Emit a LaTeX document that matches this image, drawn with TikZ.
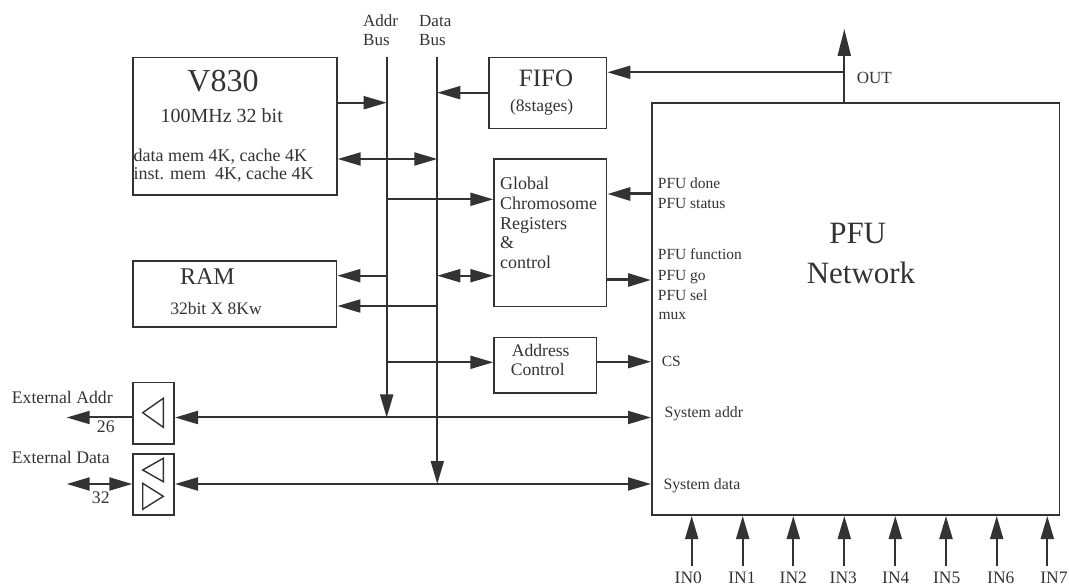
\documentclass[tikz,border=0pt]{standalone}
\usepackage{fontspec}
\setmainfont{Liberation Serif}
\usetikzlibrary{arrows.meta,calc}
\definecolor{ink}{HTML}{333333}
\newcommand\myfs[1]{\fontsize{#1}{#1}\selectfont}
\begin{document}
\begin{tikzpicture}[x=1pt,y=-1pt,
  box/.style={draw=ink, line width=1.7pt, inner sep=0pt, anchor=north west},
  conn/.style={draw=ink, line width=2pt},
  thk/.style={draw=ink, line width=3pt},
  tip/.tip={Triangle[length=23pt,width=13pt]},
  arr/.style={conn, -tip},
  darr/.style={conn, tip-tip},
  tri/.style={draw=ink, line width=1.4pt, line join=miter},
  txt/.style={text=ink, inner sep=0pt},
  lw/.style={txt, anchor=base west},
  lc/.style={txt, anchor=base},
]
\useasboundingbox (0,0) rectangle (1069,585);

% ---------- boxes ----------
\node[box, minimum width=203.7pt, minimum height=137.3pt] (v830) at (132.3,56.7) {};
\node[box, minimum width=203.4pt, minimum height=66pt]    (ram)  at (132.3,260) {};
\node[box, minimum width=117.4pt, minimum height=71pt]    (fifo) at (488.3,56.7) {};
\node[box, minimum width=112.4pt, minimum height=147.4pt] (glob) at (493.3,158.3) {};
\node[box, minimum width=102.4pt, minimum height=55.6pt]  (actl) at (493.3,336.7) {};
\node[box, minimum width=407.5pt, minimum height=412pt]   (pfu)  at (651,102.3) {};
\node[box, minimum width=41pt, minimum height=61.6pt]     (abuf) at (132.3,381.7) {};
\node[box, minimum width=41pt, minimum height=61pt]       (dbuf) at (132.3,453.3) {};

% buffer triangles
\draw[tri] (142.7,412.7) -- (163.3,398.3) -- (163.3,427.3) -- cycle;
\draw[tri] (142.7,470) -- (163.3,458.3) -- (163.3,481.7) -- cycle;
\draw[tri] (163.3,496.3) -- (142.7,483.3) -- (142.7,509.3) -- cycle;

% ---------- texts ----------
\node[lc, font=\myfs{32}] (tv830) at (223,91.7) {V830};
\node[lc, font=\myfs{20}] (tmhz) at (221.7,122.7) {100MHz 32 bit};
\node[lw, font=\myfs{18}] (tdm) at (133.5,161.3) {data mem 4K, cache 4K};
\node[lw, font=\myfs{18}] (tim) at (133.5,179.3) {inst. mem\ \ 4K, cache 4K};
\node[lc, font=\myfs{24}] (tram) at (207.5,285) {RAM};
\node[lc, font=\myfs{17.5}] (tramsz) at (216,315) {32bit X 8Kw};

\node[lw, font=\myfs{17}] (tab1) at (363,26.7) {Addr};
\node[lw, font=\myfs{17}] (tab2) at (363,46) {Bus};
\node[lw, font=\myfs{17}] (tdb1) at (419,26.7) {Data};
\node[lw, font=\myfs{17}] (tdb2) at (419,46) {Bus};

\node[lc, font=\myfs{25}] (tfifo) at (546,86.7) {FIFO};
\node[lc, font=\myfs{17.5}] (tstg) at (541.7,111.7) {(8stages)};

\node[lw, font=\myfs{18}] (tg1) at (500,190) {Global};
\node[lw, font=\myfs{18}] (tg2) at (500,210) {Chromosome};
\node[lw, font=\myfs{18}] (tg3) at (500,229.3) {Registers};
\node[lw, font=\myfs{18}] (tg4) at (500,249) {\&};
\node[lw, font=\myfs{18}] (tg5) at (500,268.3) {control};

\node[lw, font=\myfs{17.6}] (tac1) at (511.7,356.7) {Address};
\node[lw, font=\myfs{17.6}] (tac2) at (510.7,376) {Control};

\node[lw, font=\myfs{15.5}] (p1) at (657.7,188.3) {PFU done};
\node[lw, font=\myfs{15.5}] (p2) at (657.7,208.3) {PFU status};
\node[lw, font=\myfs{15.5}] (p3) at (657.7,260) {PFU function};
\node[lw, font=\myfs{15.5}] (p4) at (657.7,280.7) {PFU go};
\node[lw, font=\myfs{15.5}] (p5) at (657.7,300.7) {PFU sel};
\node[lw, font=\myfs{15.5}] (p6) at (658.3,320) {mux};
\node[lw, font=\myfs{15.5}] (p7) at (661.7,366.7) {CS};
\node[lw, font=\myfs{15.8}] (p8) at (664.3,417.3) {System addr};
\node[lw, font=\myfs{15.8}] (p9) at (663.3,489) {System data};

\node[lc, font=\myfs{31}] (tpfu) at (857.7,243.3) {PFU};
\node[lc, font=\myfs{31}] (tnet) at (861,283.3) {Network};
\node[lw, font=\myfs{17}] (tout) at (856.7,83.3) {OUT};

\node[lw, font=\myfs{17.7}] (tea) at (11.7,403.3) {External Addr};
\node[lw, font=\myfs{17.7}] (t26) at (96.7,432.7) {26};
\node[lw, font=\myfs{17.7}] (ted) at (11.7,463.3) {External Data};
\node[lw, font=\myfs{17.7}] (t32) at (91.7,503.3) {32};

% ---------- bus coordinates ----------
\coordinate (abtop) at (386.7,57.3);
\coordinate (dbtop) at (437.3,57.3);
\coordinate (a1) at (386.7,102.7);
\coordinate (a2) at (386.7,199.3);
\coordinate (a3) at (386.7,275.7);
\coordinate (a4) at (386.7,362.3);
\coordinate (a5) at (386.7,417.5);
\coordinate (d1) at (437.3,92.7);
\coordinate (d2) at (437.3,159);
\coordinate (d3) at (437.3,275.7);
\coordinate (d4) at (437.3,306);
\coordinate (d5) at (437.3,484);
\coordinate (ea) at (66.7,417.5);
\coordinate (ed) at (66.7,484);
\coordinate (outtop) at (844.3,29);
\coordinate (outj) at (844.3,72.3);
\coordinate (pd) at (651,194);
\coordinate (pg) at (651,280);
\coordinate (pc) at (651,361.7);

% ---------- buses ----------
\draw[arr] (abtop) -- (a5);
\draw[arr] (dbtop) -- (d5);

% ---------- connectors ----------
\draw[arr] (v830.east |- a1) -- (a1);
\draw[darr] (v830.east |- d2) -- (d2);
\draw[arr] (fifo.west |- d1) -- (d1);
\draw[arr] (a2) -- (glob.west |- a2);
\draw[darr] (d3) -- (glob.west |- d3);
\draw[arr] (a3) -- (ram.east |- a3);
\draw[arr] (d4) -- (ram.east |- d4);
\draw[arr] (a4) -- (actl.west |- a4);
\draw[darr] (abuf.east |- a5) -- (pfu.west |- a5);
\draw[darr] (dbuf.east |- d5) -- (pfu.west |- d5);
\draw[arr] (abuf.west |- a5) -- (ea);
\draw[darr] (ed) -- (dbuf.west |- d5);
\draw[conn, -{Triangle[length=27pt,width=13pt]}] (pfu.north -| outtop) -- (outtop);
\draw[arr] (outj) -- (fifo.east |- outj);
\draw[thk, -{Triangle[length=23pt,width=13pt]}] (pd) -- (glob.east |- pd);
\draw[thk, -{Triangle[length=23pt,width=13pt]}] (glob.east |- pg) -- (pg);
\draw[arr] (actl.east |- pc) -- (pc);

% ---------- inputs ----------
\foreach \i/\x/\lx in {0/691.7/688.3, 1/742.7/742, 2/793.3/793.3, 3/844.3/843.3, 4/895.3/895.8, 5/946/946.7, 6/996.7/1000.8, 7/1047.3/1054} {
  \coordinate (in\i) at (\x,566);
  \draw[arr] (in\i) -- (pfu.south -| in\i);
  \node[lc, font=\myfs{17.5}] (lin\i) at (\lx,583) {IN\i};
}
\end{tikzpicture}
\end{document}
